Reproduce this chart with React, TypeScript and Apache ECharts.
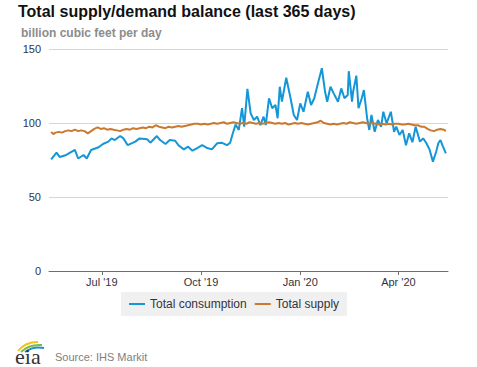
import React, { useEffect, useRef } from "react";
import * as echarts from "echarts";

const TITLE = "Total supply/demand balance (last 365 days)";
const UNIT = "billion cubic feet per day";
const SOURCE = "Source: IHS Markit";
const SERIES_NAMES = ["Total consumption", "Total supply"];
const MONTHS = ["Jan", "Feb", "Mar", "Apr", "May", "Jun", "Jul", "Aug", "Sep", "Oct", "Nov", "Dec"];
const TICK_DATES = ["2019-07-01", "2019-10-01", "2020-01-01", "2020-04-01"];
const AXIS_RANGE = ["2019-05-13", "2020-05-17"];
const Y_TICKS = [0, 50, 100, 150];

const consumption: [string, number][] = [
  ["2019-05-15", 75.5], ["2019-05-20", 80], ["2019-05-23", 77], ["2019-05-29", 78.4],
  ["2019-06-06", 81.8], ["2019-06-09", 76], ["2019-06-14", 78.4], ["2019-06-17", 76], ["2019-06-21", 81.8], ["2019-06-28", 83.6],
  ["2019-07-02", 85.8], ["2019-07-07", 87.4], ["2019-07-10", 89.6], ["2019-07-13", 88.5], ["2019-07-18", 91.2], ["2019-07-21", 89.6], ["2019-07-25", 85],
  ["2019-08-01", 87.4], ["2019-08-05", 89.6], ["2019-08-12", 89], ["2019-08-15", 86.7], ["2019-08-21", 91.2], ["2019-08-24", 88.5], ["2019-08-29", 85.8],
  ["2019-09-02", 88.5], ["2019-09-07", 88], ["2019-09-10", 85], ["2019-09-15", 82.2], ["2019-09-19", 84], ["2019-09-23", 81.3], ["2019-09-27", 82.9],
  ["2019-10-02", 85], ["2019-10-06", 83.3], ["2019-10-11", 82.2], ["2019-10-16", 86.3], ["2019-10-20", 86.7], ["2019-10-25", 85], ["2019-10-28", 86.7], ["2019-10-30", 91.9],
  ["2019-11-02", 99], ["2019-11-05", 95.3], ["2019-11-08", 110], ["2019-11-10", 97.5], ["2019-11-13", 123], ["2019-11-16", 106.5], ["2019-11-19", 102], ["2019-11-22", 104.3], ["2019-11-25", 98.6], ["2019-11-28", 104.3], ["2019-11-30", 98.6],
  ["2019-12-03", 116.7], ["2019-12-06", 110], ["2019-12-09", 112.2], ["2019-12-11", 103.2], ["2019-12-13", 124.5], ["2019-12-15", 114.4], ["2019-12-19", 130.6], ["2019-12-23", 116.7], ["2019-12-26", 105.4], ["2019-12-29", 102],
  ["2020-01-01", 113.3], ["2020-01-04", 107.6], ["2020-01-08", 121.1], ["2020-01-11", 112.2], ["2020-01-14", 116.7], ["2020-01-17", 125.7], ["2020-01-21", 137], ["2020-01-24", 121.1], ["2020-01-26", 114.4], ["2020-01-29", 124.5],
  ["2020-02-01", 120], ["2020-02-05", 114.4], ["2020-02-08", 123.4], ["2020-02-11", 116.7], ["2020-02-14", 118.9], ["2020-02-15", 135], ["2020-02-18", 114.4], ["2020-02-19", 121.1], ["2020-02-22", 132], ["2020-02-24", 110], ["2020-02-27", 116.7], ["2020-02-29", 122.3],
  ["2020-03-03", 103.2], ["2020-03-05", 95.3], ["2020-03-07", 105.4], ["2020-03-10", 94.1], ["2020-03-13", 102], ["2020-03-16", 97.5], ["2020-03-18", 107.6], ["2020-03-21", 99.8], ["2020-03-25", 107.6], ["2020-03-28", 94.1], ["2020-03-30", 97.5],
  ["2020-04-02", 91.9], ["2020-04-05", 95.3], ["2020-04-08", 85], ["2020-04-11", 93], ["2020-04-14", 87], ["2020-04-17", 97.5], ["2020-04-21", 87.4], ["2020-04-24", 89.6], ["2020-04-27", 86.3], ["2020-04-30", 81.8],
  ["2020-05-03", 73.9], ["2020-05-06", 80.6], ["2020-05-08", 86.3], ["2020-05-10", 88.5], ["2020-05-12", 84.7], ["2020-05-15", 79.5],
];

const supply: [string, number][] = [
  ["2019-05-15", 94], ["2019-05-17", 92.5], ["2019-05-19", 93.5], ["2019-05-22", 94], ["2019-05-25", 93.5], ["2019-05-28", 94.5], ["2019-05-31", 95],
  ["2019-06-03", 94.5], ["2019-06-06", 95.5], ["2019-06-09", 94.5], ["2019-06-12", 95], ["2019-06-15", 94.5], ["2019-06-18", 93], ["2019-06-21", 94.5], ["2019-06-24", 96], ["2019-06-27", 97], ["2019-06-30", 96],
  ["2019-07-03", 96.5], ["2019-07-06", 95.5], ["2019-07-09", 96], ["2019-07-12", 95.5], ["2019-07-15", 95], ["2019-07-18", 94.5], ["2019-07-21", 95.5], ["2019-07-24", 96], ["2019-07-27", 95.5], ["2019-07-30", 96.5],
  ["2019-08-02", 96], ["2019-08-05", 96.5], ["2019-08-08", 97], ["2019-08-11", 96.5], ["2019-08-14", 97.5], ["2019-08-17", 97], ["2019-08-20", 98.5], ["2019-08-23", 97.5], ["2019-08-26", 97], ["2019-08-29", 96.5],
  ["2019-09-01", 97.5], ["2019-09-04", 97], ["2019-09-07", 97.5], ["2019-09-10", 98], ["2019-09-13", 97.5], ["2019-09-16", 98], ["2019-09-19", 98.5], ["2019-09-22", 99], ["2019-09-25", 99.5], ["2019-09-28", 99.5],
  ["2019-10-01", 99], ["2019-10-04", 99.5], ["2019-10-07", 99], ["2019-10-10", 99.5], ["2019-10-13", 100], ["2019-10-16", 99.5], ["2019-10-19", 100], ["2019-10-22", 100.5], ["2019-10-25", 99.5], ["2019-10-28", 100], ["2019-10-31", 100.5],
  ["2019-11-03", 100], ["2019-11-06", 99.5], ["2019-11-09", 100], ["2019-11-12", 99.5], ["2019-11-15", 100.5], ["2019-11-18", 100], ["2019-11-21", 99.5], ["2019-11-24", 100], ["2019-11-27", 99.5], ["2019-11-30", 100],
  ["2019-12-03", 100.5], ["2019-12-06", 100], ["2019-12-09", 99.5], ["2019-12-12", 100], ["2019-12-15", 99.5], ["2019-12-18", 100], ["2019-12-21", 99], ["2019-12-24", 99.5], ["2019-12-27", 100], ["2019-12-30", 99.5],
  ["2020-01-02", 100], ["2020-01-05", 99.5], ["2020-01-08", 99], ["2020-01-11", 99.5], ["2020-01-14", 100], ["2020-01-17", 100.5], ["2020-01-20", 101.5], ["2020-01-23", 100], ["2020-01-26", 99.5], ["2020-01-29", 99],
  ["2020-02-01", 99.5], ["2020-02-04", 99], ["2020-02-07", 99.5], ["2020-02-10", 100], ["2020-02-13", 99.5], ["2020-02-16", 100.5], ["2020-02-19", 100], ["2020-02-22", 99.5], ["2020-02-25", 100], ["2020-02-28", 100.5],
  ["2020-03-02", 100], ["2020-03-05", 99.5], ["2020-03-08", 100], ["2020-03-11", 99.5], ["2020-03-14", 99], ["2020-03-17", 99.5], ["2020-03-20", 99], ["2020-03-23", 99.5], ["2020-03-26", 99], ["2020-03-29", 99.5],
  ["2020-04-01", 99.5], ["2020-04-04", 99], ["2020-04-07", 99], ["2020-04-10", 99.5], ["2020-04-13", 99], ["2020-04-16", 98.5], ["2020-04-19", 98.5], ["2020-04-22", 97.5], ["2020-04-25", 97.5], ["2020-04-28", 96],
  ["2020-05-01", 95], ["2020-05-04", 94.5], ["2020-05-07", 95.5], ["2020-05-10", 96], ["2020-05-13", 95.5], ["2020-05-15", 94.5],
];

function ts(s: string): number {
  const [y, m, d] = s.split("-").map(Number);
  return Date.UTC(y, m - 1, d);
}

export default function App() {
  const ref = useRef<HTMLDivElement>(null);
  useEffect(() => {
    document.body.style.margin = "0";
    if (!ref.current) return;
    const chart = echarts.init(ref.current, undefined, { renderer: "svg" });
    const tickValues = TICK_DATES.map(ts);
    const font = "Liberation Sans, Arial, sans-serif";
    chart.setOption({
      animation: false,
      backgroundColor: "#ffffff",
      textStyle: { fontFamily: font },
      title: [
        {
          text: TITLE,
          left: 18,
          top: 3,
          padding: 0,
          textStyle: { fontSize: 16, fontWeight: "bold", color: "#111111", fontFamily: font },
        },
        {
          text: UNIT,
          left: 21,
          top: 27,
          padding: 0,
          textStyle: { fontSize: 12, fontWeight: "bold", color: "#8c8c8c", fontFamily: font },
        },
      ],
      grid: { left: 49, right: 29, top: 49, bottom: 96, containLabel: false },
      legend: {
        left: 121,
        top: 292,
        backgroundColor: "#f0f0f0",
        padding: [6, 8, 6, 8],
        itemGap: 8,
        itemWidth: 16,
        itemHeight: 2,
        icon: "rect",
        textStyle: { fontSize: 12, color: "#333340", fontFamily: font },
        data: SERIES_NAMES,
      },
      xAxis: {
        type: "value",
        min: ts(AXIS_RANGE[0]),
        max: ts(AXIS_RANGE[1]),
        axisLine: { show: true, onZero: false, lineStyle: { color: "#6e6e6e", width: 1 } },
        axisTick: { show: true, length: 4, customValues: tickValues, lineStyle: { color: "#6e6e6e" } },
        splitLine: { show: false },
        axisLabel: {
          customValues: tickValues,
          fontSize: 11,
          color: "#333340",
          margin: 5,
          formatter: (v: number) => {
            const d = new Date(v);
            return `${MONTHS[d.getUTCMonth()]} '${String(d.getUTCFullYear()).slice(2)}`;
          },
        },
      },
      yAxis: {
        type: "value",
        min: Y_TICKS[0],
        max: Y_TICKS[Y_TICKS.length - 1],
        interval: 50,
        axisLine: { show: false },
        axisTick: { show: false },
        splitLine: { lineStyle: { color: "#d6d6d6", width: 1 } },
        axisLabel: { fontSize: 11, color: "#333340", margin: 8 },
      },
      series: [
        {
          name: SERIES_NAMES[0],
          type: "line",
          symbol: "none",
          data: consumption.map(([d, v]) => [ts(d), v]),
          lineStyle: { color: "#1496d7", width: 2 },
          itemStyle: { color: "#1496d7" },
          z: 3,
        },
        {
          name: SERIES_NAMES[1],
          type: "line",
          symbol: "none",
          data: supply.map(([d, v]) => [ts(d), v]),
          lineStyle: { color: "#c97a30", width: 2 },
          itemStyle: { color: "#c97a30" },
          z: 4,
        },
      ],
      graphic: [
        { type: "bezierCurve", shape: { x1: 18, y1: 351, cpx1: 25, cpy1: 342, x2: 38, y2: 342 }, style: { stroke: "#f2c318", lineWidth: 2, fill: "none" } },
        { type: "bezierCurve", shape: { x1: 21, y1: 352, cpx1: 29, cpy1: 344, x2: 42, y2: 345 }, style: { stroke: "#7dbb42", lineWidth: 2, fill: "none" } },
        { type: "bezierCurve", shape: { x1: 25, y1: 352, cpx1: 33, cpy1: 346, x2: 44, y2: 348 }, style: { stroke: "#1a8fd0", lineWidth: 2, fill: "none" } },
        { type: "text", left: 15, top: 345, style: { text: "eia", fontSize: 22, fontFamily: "Liberation Serif, serif", fill: "#333333" } },
        { type: "text", left: 55, top: 351, style: { text: SOURCE, fontSize: 11, fontFamily: font, fill: "#808080" } },
      ],
    });
    return () => chart.dispose();
  }, []);
  return <div ref={ref} style={{ width: 477, height: 367 }} />;
}
